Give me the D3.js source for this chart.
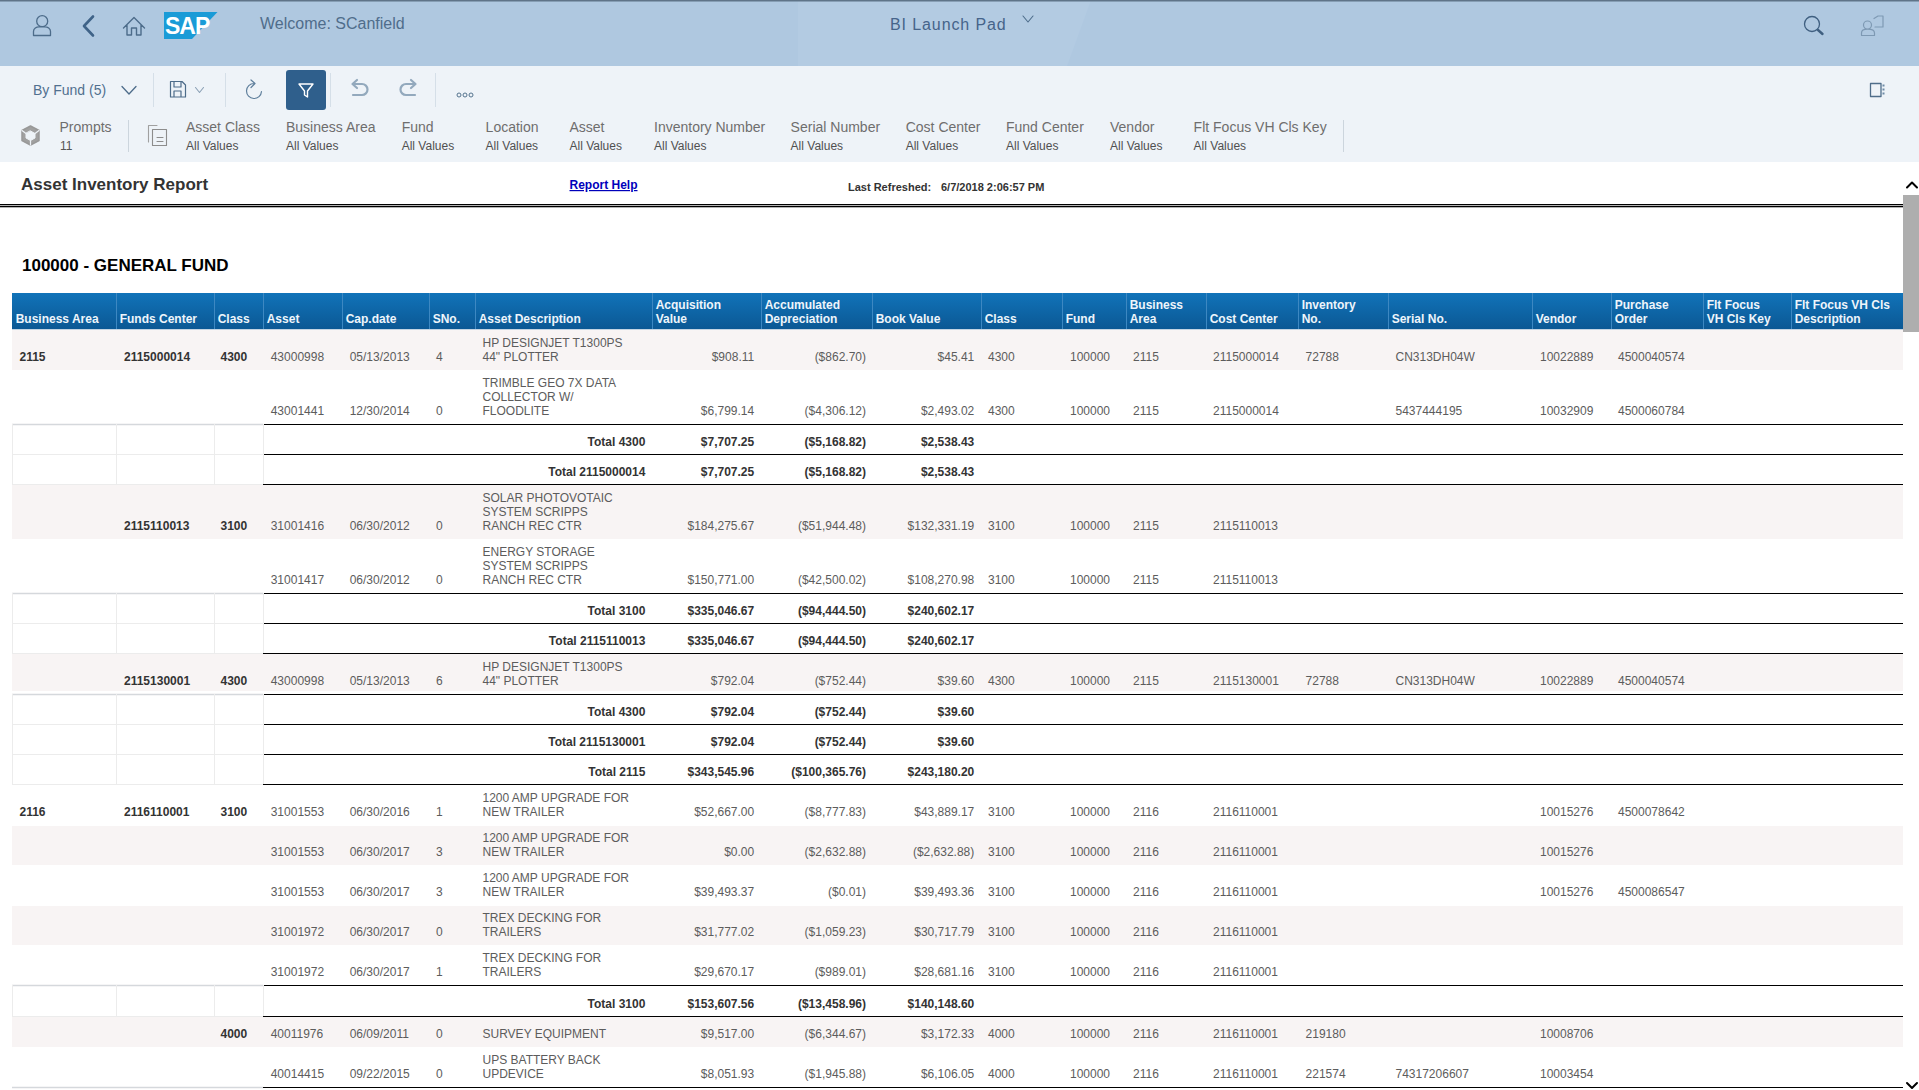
<!doctype html>
<meta charset="utf-8">
<style>
html, body { margin: 0; padding: 0; background: #fff; overflow: hidden; }
svg { display: block; }
text { font-family: "Liberation Sans", Arial, sans-serif; }
</style>
<script src="https://cdn.jsdelivr.net/npm/d3@7"></script>
<body>
<script>

var w = 1919, h = 1090;

// table data, one array per column, one entry per row

var businessArea = ["2115","","","","","","","","","","","","2116","","","","","","",""];
var fundsCenter = ["2115000014","","","","2115110013","","","","2115130001","","","","2116110001","","","","","","",""];
var assetClass = ["4300","","","","3100","","","","4300","","","","3100","","","","","","4000",""];
var asset = ["43000998","43001441","","","31001416","31001417","","","43000998","","","","31001553","31001553","31001553","31001972","31001972","","40011976","40014415"];
var capDate = ["05/13/2013","12/30/2014","","","06/30/2012","06/30/2012","","","05/13/2013","","","","06/30/2016","06/30/2017","06/30/2017","06/30/2017","06/30/2017","","06/09/2011","09/22/2015"];
var sNo = ["4","0","","","0","0","","","6","","","","1","3","3","0","1","","0","0"];
var description = [
  ["HP DESIGNJET T1300PS", "44\" PLOTTER"],
  ["TRIMBLE GEO 7X DATA", "COLLECTOR W/", "FLOODLITE"],
  ["Total 4300"],
  ["Total 2115000014"],
  ["SOLAR PHOTOVOTAIC", "SYSTEM SCRIPPS", "RANCH REC CTR"],
  ["ENERGY STORAGE", "SYSTEM SCRIPPS", "RANCH REC CTR"],
  ["Total 3100"],
  ["Total 2115110013"],
  ["HP DESIGNJET T1300PS", "44\" PLOTTER"],
  ["Total 4300"],
  ["Total 2115130001"],
  ["Total 2115"],
  ["1200 AMP UPGRADE FOR", "NEW TRAILER"],
  ["1200 AMP UPGRADE FOR", "NEW TRAILER"],
  ["1200 AMP UPGRADE FOR", "NEW TRAILER"],
  ["TREX DECKING FOR", "TRAILERS"],
  ["TREX DECKING FOR", "TRAILERS"],
  ["Total 3100"],
  ["SURVEY EQUIPMENT"],
  ["UPS BATTERY BACK", "UPDEVICE"]
];
var acquisition = ["$908.11","$6,799.14","$7,707.25","$7,707.25","$184,275.67","$150,771.00","$335,046.67","$335,046.67","$792.04","$792.04","$792.04","$343,545.96","$52,667.00","$0.00","$39,493.37","$31,777.02","$29,670.17","$153,607.56","$9,517.00","$8,051.93"];
var depreciation = ["($862.70)","($4,306.12)","($5,168.82)","($5,168.82)","($51,944.48)","($42,500.02)","($94,444.50)","($94,444.50)","($752.44)","($752.44)","($752.44)","($100,365.76)","($8,777.83)","($2,632.88)","($0.01)","($1,059.23)","($989.01)","($13,458.96)","($6,344.67)","($1,945.88)"];
var bookValue = ["$45.41","$2,493.02","$2,538.43","$2,538.43","$132,331.19","$108,270.98","$240,602.17","$240,602.17","$39.60","$39.60","$39.60","$243,180.20","$43,889.17","($2,632.88)","$39,493.36","$30,717.79","$28,681.16","$140,148.60","$3,172.33","$6,106.05"];
var class2 = ["4300","4300","","","3100","3100","","","4300","","","","3100","3100","3100","3100","3100","","4000","4000"];
var fund = ["100000","100000","","","100000","100000","","","100000","","","","100000","100000","100000","100000","100000","","100000","100000"];
var area2 = ["2115","2115","","","2115","2115","","","2115","","","","2116","2116","2116","2116","2116","","2116","2116"];
var costCenter = ["2115000014","2115000014","","","2115110013","2115110013","","","2115130001","","","","2116110001","2116110001","2116110001","2116110001","2116110001","","2116110001","2116110001"];
var inventoryNo = ["72788","","","","","","","","72788","","","","","","","","","","219180","221574"];
var serialNo = ["CN313DH04W","5437444195","","","","","","","CN313DH04W","","","","","","","","","","","74317206607"];
var vendor = ["10022889","10032909","","","","","","","10022889","","","","10015276","10015276","10015276","","","","10008706","10003454"];
var purchaseOrder = ["4500040574","4500060784","","","","","","","4500040574","","","","4500078642","","4500086547","","","","",""];

var headerLabels = [
  ["Business Area"], ["Funds Center"], ["Class"], ["Asset"], ["Cap.date"], ["SNo."], ["Asset Description"],
  ["Acquisition", "Value"], ["Accumulated", "Depreciation"], ["Book Value"], ["Class"], ["Fund"],
  ["Business", "Area"], ["Cost Center"], ["Inventory", "No."], ["Serial No."], ["Vendor"],
  ["Purchase", "Order"], ["Flt Focus", "VH Cls Key"], ["Flt Focus VH Cls", "Description"]
];

var filterLabels = ["Asset Class","Business Area","Fund","Location","Asset","Inventory Number","Serial Number","Cost Center","Fund Center","Vendor","Flt Focus VH Cls Key"];

// layout

var columnEdges = [12,116,214,263,342,429,475,652,761,872,981,1062,1126,1206,1298,1388,1532,1611,1703,1791,1903];
var filterX = [186,286,401.7,485.6,569.5,654,790.6,905.7,1006,1110,1193.6];
var rowHeights = [40,54,30,30,55,54,30,30,41,30,30,30,41,40,40,40,40,31,31,40];

var colIndex = d3.range(headerLabels.length);
var x = d3.scaleOrdinal(colIndex, columnEdges);

var rowIndex = d3.range(asset.length);
var isTotal = function(i) { return description[i][0].indexOf("Total") === 0; };
var tableTop = 330;
var y = d3.scaleOrdinal(rowIndex, [tableTop].concat(Array.from(d3.cumsum(rowHeights), function(c) { return tableTop + c; })));
var rowBottom = function(i) { return y(i) + rowHeights[i]; };

var svg = d3.select("body")
  .append("svg")
    .attr("width", w)
    .attr("height", h);

var defs = svg.append("defs");

var grad = defs.append("linearGradient")
    .attr("id", "head-grad")
    .attr("x1", 0).attr("y1", 0).attr("x2", 0).attr("y2", 1);
grad.append("stop").attr("offset", "0").attr("stop-color", "#1173b9");
grad.append("stop").attr("offset", "1").attr("stop-color", "#0b5894");

// shell bar and toolbar

svg.append("rect").attr("width", w).attr("height", 66).attr("fill", "#afc8e0");
svg.append("path").attr("d", "M798 0H1091L1067 66H798Z").attr("fill", "#b3cbe2");
svg.append("rect").attr("width", w).attr("height", 1.5).attr("fill", "#5f7488");
svg.append("rect").attr("y", 66).attr("width", w).attr("height", 96).attr("fill", "#eef3f8");

function label(sel, tx, ty, str, size, color, weight) {
  return sel.append("text")
      .attr("x", tx)
      .attr("y", ty)
      .attr("font-size", size)
      .attr("fill", color)
      .attr("font-weight", weight || "normal")
      .text(str);
}

function icon(d, color, sw, fill) {
  return svg.append("path")
      .attr("d", d)
      .attr("fill", fill || "none")
      .attr("stroke", color)
      .attr("stroke-width", sw || 1.3)
      .attr("stroke-linecap", "round")
      .attr("stroke-linejoin", "round");
}

var shellBlue = "#4d6c8a";

// user, back, home
icon("M47.7 21.2a5.5 5.5 0 1 1 -11 0a5.5 5.5 0 1 1 11 0M33.5 35.5V31.5C33.5 28.5 36.5 26.8 39 26.8H45C47.5 26.8 50.5 28.5 50.5 31.5V35.5Z", shellBlue, 1.3);
icon("M93 16.5L84 26L93 35.5", "#3f6388", 2.6);
icon("M123.5 28L134 17.5L144.5 28M127 25.5V35H131.5V28H136.5V35H141V25.5", shellBlue, 1.4);

// sap logo
svg.append("path").attr("d", "M164 12H217.5L192 39H164Z").attr("fill", "#1a9bd7");
label(svg, 165, 33.5, "SAP", 23, "#fff", "bold").attr("letter-spacing", -1);

label(svg, 260, 29, "Welcome: SCanfield", 16, "#4f6d8b");
label(svg, 890, 30, "BI Launch Pad", 16, "#46648a").attr("letter-spacing", 0.9);
icon("M1023 16L1028 22L1033 16", shellBlue, 1.1);

// search and help
icon("M1819.5 24a7.5 7.5 0 1 1 -15 0a7.5 7.5 0 1 1 15 0", "#3f5f80", 1.3);
icon("M1818 30L1822.5 34", "#3f5f80", 2.4);
icon("M1871.5 25a4 4 0 1 1 -8 0a4 4 0 1 1 8 0M1861.5 35.5V33C1861.5 30.5 1864 29.2 1867.5 29.2S1874.5 30.5 1874.5 33V35.5ZM1874 18.5L1878 16H1883V27H1875", "#7e99b3", 1.2);

// toolbar row
label(svg, 33, 95, "By Fund (5)", 14, "#51708f");
icon("M122 86.5L129 94L136 86.5", shellBlue, 1.3);
[153.5, 225.5, 330.5, 435.5].forEach(function(sx) {
  svg.append("line").attr("x1", sx).attr("x2", sx).attr("y1", 73).attr("y2", 107).attr("stroke", "#d5dfe8");
});
icon("M170.5 81.5H182L185.5 85V97H170.5ZM174 81.5V87H181V81.5M174 97V91H181V97", shellBlue, 1.2);
icon("M195.5 87.5L199.5 92.5L203.5 87.5", "#8ba0b5", 1.1);
icon("M254 83.5A7.5 7.5 0 1 0 261.5 91.5M251 80L255 83.5L251 87.5", "#5f7f9c", 1.2);

svg.append("rect").attr("x", 286).attr("y", 70).attr("width", 40).attr("height", 40).attr("rx", 3).attr("fill", "#2f5f8c");
icon("M299 84H313L307.5 91V97L304.5 95V91Z", "#fff", 1.4);

icon("M353 84H362a5.5 5.5 0 0 1 0 11H353M357 80L352.5 84L357 88", "#93a9bd", 2.2);
icon("M415 84H406a5.5 5.5 0 0 0 0 11H415M411 80L415.5 84L411 88", "#93a9bd", 2.2);
[459, 465, 471].forEach(function(cx) {
  svg.append("circle").attr("cx", cx).attr("cy", 95).attr("r", 2).attr("fill", "none").attr("stroke", "#54738e").attr("stroke-width", 1);
});
icon("M1870.5 83.5H1881V96.5H1870.5Z", "#4f6d8a", 1.3);
[84.5, 88.5, 92.5].forEach(function(dy) {
  svg.append("rect").attr("x", 1882.5).attr("y", dy).attr("width", 2).attr("height", 2).attr("fill", "#6d8aa5");
});

// prompts and filters
icon("M30.5 126L39 130.5V140.5L30.5 145L22 140.5V130.5Z", "#989898", 1.5, "#a0a0a0");
icon("M30.5 131L35 133.5V138L30.5 140.5L26 138V133.5Z", "#eef3f8", 1, "#eef3f8");
icon("M22 130.5L26 133.5M39 130.5L35 133.5M30.5 145V140.5", "#eef3f8", 1.2);
label(svg, 59.5, 132, "Prompts", 14, "#6e6e6e");
label(svg, 60, 150, "11", 12, "#555");
[128.5, 1343.5].forEach(function(sx) {
  svg.append("line").attr("x1", sx).attr("x2", sx).attr("y1", 120).attr("y2", 152).attr("stroke", "#ccd5dd");
});
icon("M157 125.5H148.5V142", "#a0a0a0", 1.1);
icon("M152.5 129.5H166.5V145.5H152.5ZM157 137.5H163M157 141.5H163", "#8d8d8d", 1.1);

var filters = svg.append("g").selectAll("g")
  .data(filterLabels)
  .join("g")
    .attr("transform", function(d, i) { return "translate(" + filterX[i] + ",0)"; });
filters.append("text")
    .attr("y", 132)
    .attr("font-size", 14)
    .attr("fill", "#6e6e6e")
    .text(function(d) { return d; });
filters.append("text")
    .attr("y", 150)
    .attr("font-size", 12)
    .attr("fill", "#505050")
    .text("All Values");

// report title

label(svg, 21, 190, "Asset Inventory Report", 17, "#333", "bold");
label(svg, 569.5, 189, "Report Help", 12, "#0000bb", "bold").attr("text-decoration", "underline");
label(svg, 848, 191, "Last Refreshed:", 11, "#333", "bold");
label(svg, 941, 191, "6/7/2018 2:06:57 PM", 11, "#333", "bold");

[204, 206].forEach(function(ly) {
  svg.append("rect").attr("y", ly).attr("width", 1903).attr("height", 1.3).attr("fill", "#000");
});

label(svg, 22, 271, "100000 - GENERAL FUND", 17, "#000", "bold");

// scrollbar

svg.append("rect").attr("x", 1903).attr("y", 195).attr("width", 16).attr("height", 137).attr("fill", "#aeaeae");
icon("M1907 187.5L1912 182.5L1917 187.5", "#000", 2);
icon("M1907 1083L1912 1088L1917 1083", "#000", 2);

// table header

svg.append("rect")
    .attr("x", 12).attr("y", 293)
    .attr("width", columnEdges[20] - 12).attr("height", 36)
    .attr("fill", "url(#head-grad)");
svg.append("rect")
    .attr("x", 12).attr("y", 329)
    .attr("width", columnEdges[20] - 12).attr("height", 1.5)
    .attr("fill", "#c3d4e3");

var head = svg.append("g").selectAll("g")
  .data(headerLabels)
  .join("g")
    .attr("transform", function(d, i) { return "translate(" + x(i) + ",0)"; });

head.filter(function(d, i) { return i > 0; })
  .append("line")
    .attr("x1", 0.5).attr("x2", 0.5)
    .attr("y1", 293).attr("y2", 329)
    .attr("stroke", "#3d88c2");

head.selectAll("text")
  .data(function(d) { return d.map(function(t, i) { return { t: t, line: i, n: d.length }; }); })
  .join("text")
    .attr("x", 3.7)
    .attr("y", function(d) { return 322.5 - (d.n - 1 - d.line) * 14; })
    .attr("font-size", 12)
    .attr("font-weight", "bold")
    .attr("fill", "#eef5fb")
    .text(function(d) { return d.t; });

// row bands, every other detail row

var detailRows = rowIndex.filter(function(i) { return !isTotal(i); });

svg.append("g").selectAll("rect")
  .data(detailRows.filter(function(i, k) { return k % 2 === 0; }))
  .join("rect")
    .attr("x", 12)
    .attr("y", function(i) { return y(i) + (i > 0 ? 1 : 0); })
    .attr("width", columnEdges[20] - 12)
    .attr("height", function(i) { return rowHeights[i] - (i === 8 ? 4 : i > 0 ? 1 : 0); })
    .attr("fill", "#f8f4f4");

// rules

var ruled = rowIndex.filter(function(i) {
  return isTotal(i) || i === rowIndex.length - 1 || isTotal(i + 1);
});

svg.append("g").selectAll("line")
  .data(ruled)
  .join("line")
    .attr("x1", x(0))
    .attr("x2", x(3))
    .attr("y1", function(i) { return rowBottom(i) + 0.5; })
    .attr("y2", function(i) { return rowBottom(i) + 0.5; })
    .attr("stroke", function(i) { return isTotal(i) ? "#ececec" : "#d5d8dc"; })
    .attr("stroke-width", function(i) { return isTotal(i) ? 1 : 1.5; });

svg.append("g").selectAll("line")
  .data(ruled)
  .join("line")
    .attr("x1", x(3))
    .attr("x2", x(20))
    .attr("y1", function(i) { return rowBottom(i) + 0.5; })
    .attr("y2", function(i) { return rowBottom(i) + 0.5; })
    .attr("stroke", "#000")
    .attr("stroke-width", 1.2);

// grid of the empty cells on total rows

var totalRows = rowIndex.filter(isTotal);
[0, 1, 2, 3].forEach(function(c) {
  svg.append("g").selectAll("line")
    .data(totalRows)
    .join("line")
      .attr("x1", x(c) + 0.5)
      .attr("x2", x(c) + 0.5)
      .attr("y1", function(i) { return y(i); })
      .attr("y2", rowBottom)
      .attr("stroke", "#ececec");
});

// cells

var dataColor = "#5c5c5c", boldColor = "#333";

function leftColumn(values, col, pad, bold) {
  svg.append("g").selectAll("text")
    .data(rowIndex.filter(function(i) { return values[i] !== ""; }))
    .join("text")
      .attr("x", x(col) + pad)
      .attr("y", function(i) { return rowBottom(i) - 9; })
      .attr("font-size", 12)
      .attr("font-weight", bold ? "bold" : "normal")
      .attr("fill", bold ? boldColor : dataColor)
      .text(function(i) { return values[i]; });
}

function rightColumn(values, col, pad) {
  svg.append("g").selectAll("text")
    .data(rowIndex)
    .join("text")
      .attr("x", x(col + 1) - pad)
      .attr("y", function(i) { return rowBottom(i) - (isTotal(i) ? 8 : 9); })
      .attr("text-anchor", "end")
      .attr("font-size", 12)
      .attr("font-weight", function(i) { return isTotal(i) ? "bold" : "normal"; })
      .attr("fill", function(i) { return isTotal(i) ? boldColor : dataColor; })
      .text(function(i) { return values[i]; });
}

leftColumn(businessArea, 0, 7.5, true);
leftColumn(fundsCenter, 1, 8, true);
leftColumn(assetClass, 2, 6.5, true);
leftColumn(asset, 3, 7.7);
leftColumn(capDate, 4, 7.7);
leftColumn(sNo, 5, 7);
rightColumn(acquisition, 7, 6.8);
rightColumn(depreciation, 8, 6);
rightColumn(bookValue, 9, 6.7);
leftColumn(class2, 10, 7);
leftColumn(fund, 11, 8);
leftColumn(area2, 12, 7);
leftColumn(costCenter, 13, 7);
leftColumn(inventoryNo, 14, 7.6);
leftColumn(serialNo, 15, 7.5);
leftColumn(vendor, 16, 8);
leftColumn(purchaseOrder, 17, 7);

// description column, bottom aligned with wrapped lines, totals right aligned

var descCells = svg.append("g").selectAll("g")
  .data(rowIndex)
  .join("g");

descCells.selectAll("text")
  .data(function(i) {
    return description[i].map(function(t, k) {
      return { t: t, row: i, up: description[i].length - 1 - k };
    });
  })
  .join("text")
    .attr("x", function(d) { return isTotal(d.row) ? x(7) - 6.6 : x(6) + 7.5; })
    .attr("y", function(d) { return rowBottom(d.row) - (isTotal(d.row) ? 8 : 9) - d.up * 14; })
    .attr("text-anchor", function(d) { return isTotal(d.row) ? "end" : "start"; })
    .attr("font-size", 12)
    .attr("font-weight", function(d) { return isTotal(d.row) ? "bold" : "normal"; })
    .attr("fill", function(d) { return isTotal(d.row) ? boldColor : dataColor; })
    .text(function(d) { return d.t; });

</script>
</body>
